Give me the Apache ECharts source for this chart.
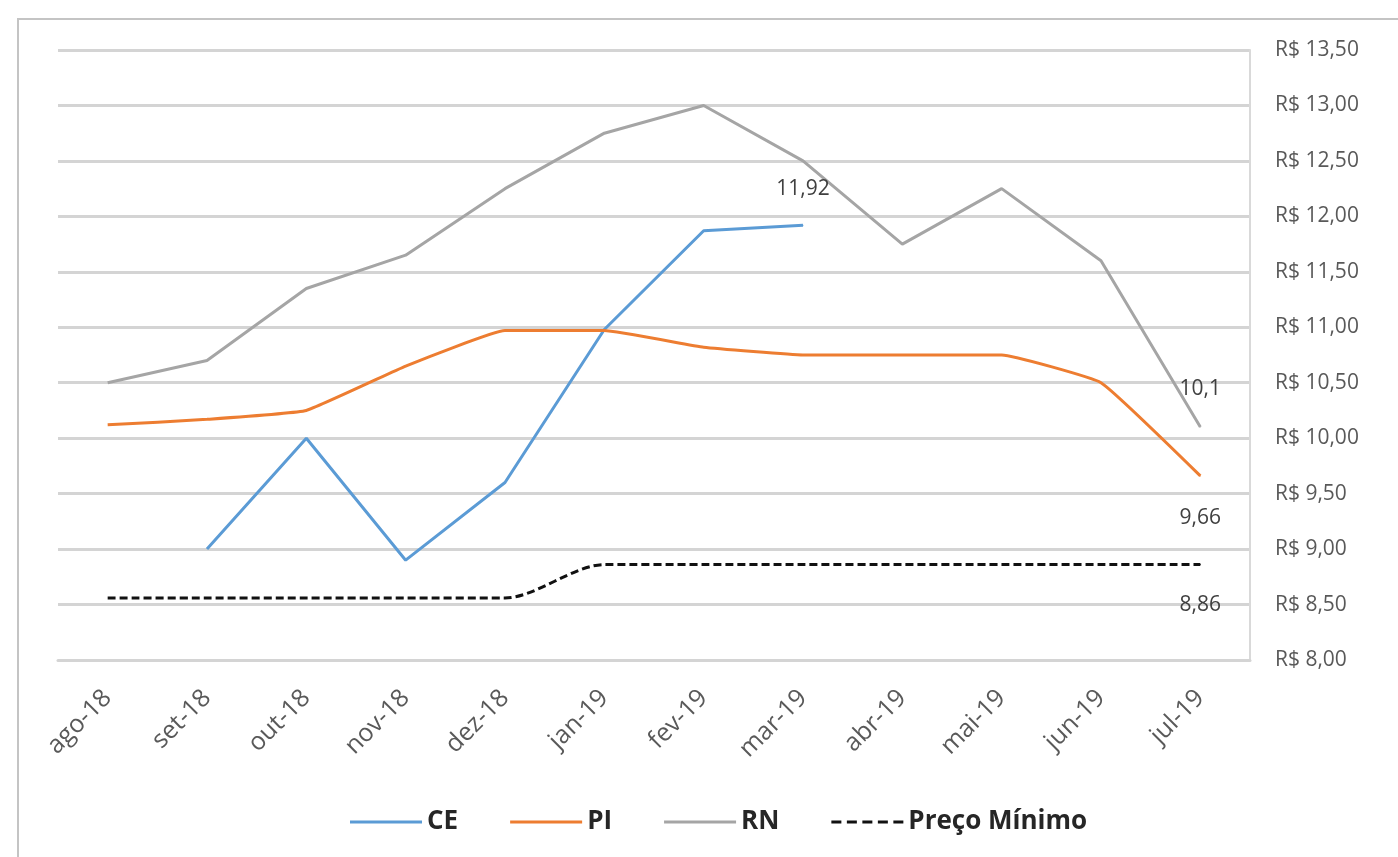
<!DOCTYPE html>
<html>
<head>
<meta charset="utf-8">
<script src="https://cdn.jsdelivr.net/npm/echarts@6/dist/echarts.min.js"></script>
<style>
  html, body { margin: 0; padding: 0; background: #ffffff; }
  #frame { position: absolute; left: 17px; top: 18px; width: 1400px; height: 860px;
           border-left: 2px solid #c4c4c4; border-top: 2px solid #c4c4c4; }
  #chart { position: absolute; left: 0; top: 0; width: 1398px; height: 857px; }
</style>
</head>
<body>
<div id="frame"></div>
<div id="chart"></div>
<script>
// Monthly prices (R$) by state, Aug 2018 - Jul 2019
const months = ['ago-18', 'set-18', 'out-18', 'nov-18', 'dez-18', 'jan-19',
                'fev-19', 'mar-19', 'abr-19', 'mai-19', 'jun-19', 'jul-19'];
const ce = [null, 9.00, 10.00, 8.90, 9.60, 10.98, 11.87, 11.92, null, null, null, null];
const pi = [10.12, 10.17, 10.25, 10.65, 10.97, 10.97, 10.82, 10.75, 10.75, 10.75, 10.50, 9.66];
const rn = [10.50, 10.70, 11.35, 11.65, 12.25, 12.75, 13.00, 12.50, 11.75, 12.25, 11.60, 10.10];
const precoMinimo = [8.56, 8.56, 8.56, 8.56, 8.56, 8.86, 8.86, 8.86, 8.86, 8.86, 8.86, 8.86];

const yTicks = { min: 8, max: 13.5, step: 0.5 };

const FONT = 'Open Sans';
const fmtComma = v => String(v).replace('.', ',');

// attach a value label to one point of a series
function withLabel(values, idx, position, distance) {
  return values.map((v, i) => i === idx ? {
    value: v,
    symbol: 'circle', symbolSize: 1,
    label: {
      show: true, position: position, distance: distance,
      formatter: p => fmtComma(p.value),
      color: '#404040', fontSize: 21, fontFamily: FONT
    }
  } : v);
}

// legend icons: a solid bar and a row of dashes
const solidIcon = 'path://M0 0h72v3h-72z';
const dashIcon = 'path://M0 0h10v3h-10z M15.5 0h10v3h-10z M31 0h10v3h-10z M46.5 0h10v3h-10z M62 0h10v3h-10z';

const chart = echarts.init(document.getElementById('chart'), null, { renderer: 'canvas' });

const lineBase = { type: 'line', symbol: 'none', connectNulls: false, z: 3 };

chart.setOption({
  animation: false,
  grid: { left: 58, right: 148, top: 50, bottom: 197 },
  legend: {
    top: 804, left: 345,
    itemWidth: 72, itemHeight: 3, itemGap: 52,
    textStyle: { color: '#262626', fontSize: 26, fontWeight: 'bold', fontFamily: FONT },
    data: [
      { name: 'CE', icon: solidIcon },
      { name: 'PI', icon: solidIcon },
      { name: 'RN', icon: solidIcon },
      { name: 'Preço Mínimo', icon: dashIcon }
    ]
  },
  xAxis: {
    type: 'category',
    data: months,
    boundaryGap: true,
    axisLine: { show: true, lineStyle: { color: '#d4d4d4', width: 3 } },
    axisTick: { show: false },
    axisLabel: {
      rotate: 45, margin: 34, interval: 0,
      color: '#595959', fontSize: 25, fontFamily: FONT
    }
  },
  yAxis: {
    type: 'value',
    position: 'right',
    min: yTicks.min, max: yTicks.max, interval: yTicks.step,
    axisLine: { show: true, lineStyle: { color: '#d9d9d9', width: 2 } },
    axisTick: { show: false },
    splitLine: { lineStyle: { color: '#d4d4d4', width: 3 } },
    axisLabel: {
      margin: 25, color: '#595959', fontSize: 21, fontFamily: FONT,
      formatter: v => 'R$ ' + v.toFixed(2).replace('.', ',')
    }
  },
  series: [
    Object.assign({}, lineBase, {
      name: 'CE', data: withLabel(ce, 7, 'top', 25),
      lineStyle: { color: '#5b9bd5', width: 3 }, itemStyle: { color: '#5b9bd5' }
    }),
    Object.assign({}, lineBase, {
      name: 'PI', data: withLabel(pi, 11, 'bottom', 31), smooth: 0.1,
      lineStyle: { color: '#ed7d31', width: 3 }, itemStyle: { color: '#ed7d31' }
    }),
    Object.assign({}, lineBase, {
      name: 'RN', data: withLabel(rn, 11, 'top', 27),
      lineStyle: { color: '#a5a5a5', width: 3 }, itemStyle: { color: '#a5a5a5' }
    }),
    Object.assign({}, lineBase, {
      name: 'Preço Mínimo', data: withLabel(precoMinimo, 11, 'bottom', 29), smooth: 0.3,
      lineStyle: { color: '#111111', width: 3, type: [8, 4] }, itemStyle: { color: '#111111' }
    })
  ]
});
</script>
</body>
</html>
